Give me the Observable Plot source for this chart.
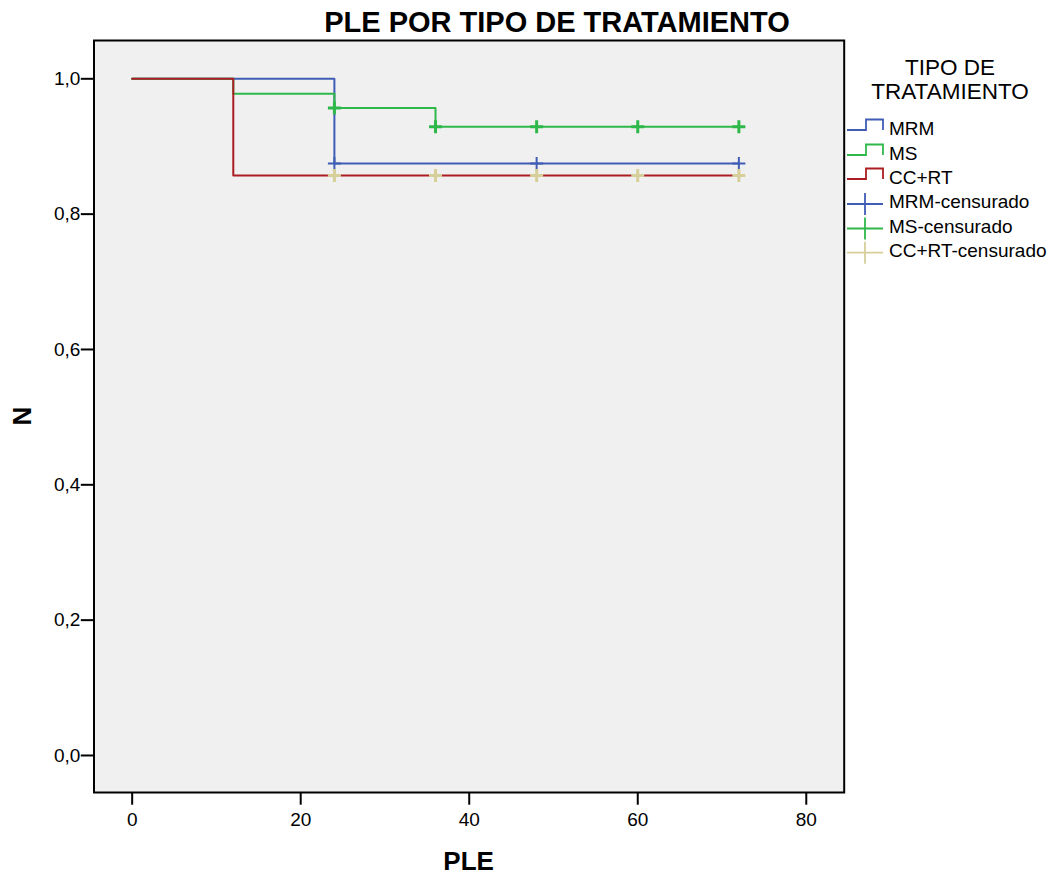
<!DOCTYPE html>
<html>
<head>
<meta charset="utf-8">
<script src="https://cdn.jsdelivr.net/npm/d3@7"></script>
<script src="https://cdn.jsdelivr.net/npm/@observablehq/plot@0.6"></script>
<style>
  html, body { margin: 0; padding: 0; background: white; }
  #chart svg { display: block; }
</style>
</head>
<body>
<div id="chart"></div>
<script>
// ---- data ----
const titleText = "PLE POR TIPO DE TRATAMIENTO";
const xLabel = "PLE";
const yLabel = "N";
const legendTitle = ["TIPO DE", "TRATAMIENTO"];
const xTicks = [0, 20, 40, 60, 80];
const yTicks = [0, 0.2, 0.4, 0.6, 0.8, 1.0];

const groups = ["MRM", "MS", "CC+RT"];
const censorLabels = ["MRM-censurado", "MS-censurado", "CC+RT-censurado"];
const lineColors = ["#3f5db5", "#2fb84a", "#ab1d22"];
const censorColors = ["#3f5db5", "#2fb84a", "#d6cf9a"];

const mrmTime = [0, 24, 72];
const mrmSurv = [1, 0.875, 0.875];
const msTime = [0, 12, 24, 36, 72];
const msSurv = [1, 0.978, 0.957, 0.929, 0.929];
const ccTime = [0, 12, 72];
const ccSurv = [1, 0.857, 0.857];

const mrmCensTime = [24, 48, 72];
const mrmCensSurv = [0.875, 0.875, 0.875];
const msCensTime = [24, 36, 48, 60, 72];
const msCensSurv = [0.957, 0.929, 0.929, 0.929, 0.929];
const ccCensTime = [24, 36, 48, 60, 72];
const ccCensSurv = [0.857, 0.857, 0.857, 0.857, 0.857];

// ---- build tables ----
const curves = [
  mrmTime.map((t, i) => ({t, s: mrmSurv[i], g: groups[0]})),
  msTime.map((t, i) => ({t, s: msSurv[i], g: groups[1]})),
  ccTime.map((t, i) => ({t, s: ccSurv[i], g: groups[2]}))
];
const censors = [
  mrmCensTime.map((t, i) => ({t, s: mrmCensSurv[i]})),
  msCensTime.map((t, i) => ({t, s: msCensSurv[i]})),
  ccCensTime.map((t, i) => ({t, s: ccCensSurv[i]}))
];

const plusSymbol = {
  draw(ctx, size) {
    const r = Math.sqrt(size / Math.PI);
    ctx.moveTo(-r, 0); ctx.lineTo(r, 0);
    ctx.moveTo(0, -r); ctx.lineTo(0, r);
  }
};

const W = 1059, H = 879;
const mL = 93.5, mR = 215.3, mT = 40, mB = 87;
const font = "'Liberation Sans', Arial, Helvetica, sans-serif";

const chart = Plot.plot({
  width: W,
  height: H,
  marginTop: mT,
  marginLeft: mL,
  marginRight: mR,
  marginBottom: mB,
  style: {fontFamily: font, fontSize: "19px", color: "black", background: "white", overflow: "visible"},
  x: {domain: [-4.53, 84.5]},
  y: {domain: [-0.0547, 1.0566]},
  marks: [
    Plot.frame({fill: "#f0f0f0"}),
    Plot.axisX({ticks: xTicks, tickSize: 12.7, tickPadding: 7, strokeWidth: 2, label: null, fontSize: 19}),
    Plot.axisY({ticks: yTicks, tickSize: 12.7, tickPadding: 1, strokeWidth: 2, label: null, fontSize: 19,
      tickFormat: d => d.toFixed(1).replace(".", ",")}),
    ...curves.map((c, i) => Plot.line(c, {x: "t", y: "s", curve: "step-after", stroke: lineColors[i], strokeWidth: 2})),
    ...censors.map((c, i) => Plot.dot(c, {x: "t", y: "s", symbol: plusSymbol, r: 6.5, stroke: censorColors[i], strokeWidth: i === 0 ? 2 : 3, fill: "none"})),
    Plot.frame({stroke: "black", strokeWidth: 2})
  ]
});

document.getElementById("chart").appendChild(chart);

// ---- title, axis labels, legend ----
const svg = d3.select(chart);
svg.append("text")
  .attr("x", 557).attr("y", 32)
  .attr("text-anchor", "middle")
  .attr("font-family", font).attr("font-size", 29).attr("font-weight", "bold")
  .attr("fill", "black")
  .text(titleText);

svg.append("text")
  .attr("x", (mL + (W - mR)) / 2).attr("y", 870)
  .attr("text-anchor", "middle")
  .attr("font-family", font).attr("font-size", 26).attr("font-weight", "bold")
  .attr("fill", "black")
  .text(xLabel);

svg.append("text")
  .attr("transform", `translate(31,${(mT + (H - mB)) / 2}) rotate(-90)`)
  .attr("text-anchor", "middle")
  .attr("font-family", font).attr("font-size", 26).attr("font-weight", "bold")
  .attr("fill", "black")
  .text(yLabel);

const leg = svg.append("g").attr("font-family", font).attr("fill", "black");
legendTitle.forEach((t, i) => {
  leg.append("text")
    .attr("x", 950).attr("y", 74.5 + i * 24)
    .attr("text-anchor", "middle")
    .attr("font-size", 22.5)
    .text(t);
});

const rowBase = [135, 160, 184, 208, 232.5, 256.7];
groups.forEach((g, i) => {
  const b = rowBase[i];
  const lo = b - 5, hi = b - 15.5;
  leg.append("path")
    .attr("d", `M847,${lo}H866V${hi}H883V${lo}`)
    .attr("fill", "none").attr("stroke", lineColors[i]).attr("stroke-width", 1.8);
  leg.append("text").attr("x", 889).attr("y", b).attr("text-anchor", "start").attr("font-size", 19).text(g);
});
censorLabels.forEach((g, i) => {
  const b = rowBase[i + 3];
  const cy = b - 4;
  leg.append("path")
    .attr("d", `M847,${cy}H883M865,${cy - 11}V${cy + 11}`)
    .attr("fill", "none").attr("stroke", censorColors[i]).attr("stroke-width", 1.8);
  leg.append("text").attr("x", 889).attr("y", b).attr("text-anchor", "start").attr("font-size", 19).text(g);
});
</script>
</body>
</html>
